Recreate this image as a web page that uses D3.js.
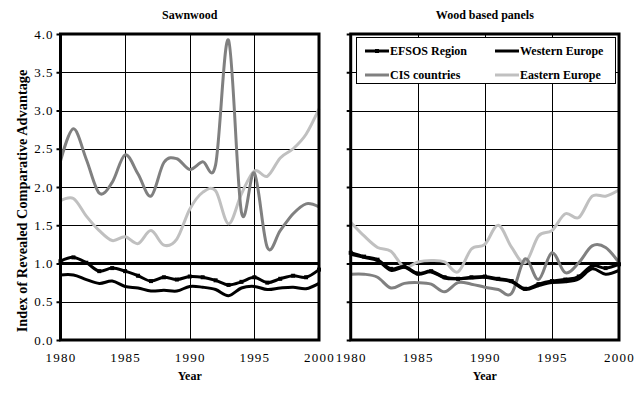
<!DOCTYPE html>
<html>
<head>
<meta charset="utf-8">
<script src="https://cdn.jsdelivr.net/npm/d3@7"></script>
<style>
  body { margin: 0; background: #fff; }
  svg text { font-family: "Liberation Serif", "Times New Roman", serif; fill: #000; }
</style>
</head>
<body>
<script>
// years shared by every series
var years = d3.range(1980, 2001);
var yTicks = [0, 0.5, 1, 1.5, 2, 2.5, 3, 3.5, 4];
var xTicks = [1980, 1985, 1990, 1995, 2000];

// sawnwood RCA index
var sawEfsos   = [1.03, 1.08, 1.01, 0.90, 0.94, 0.90, 0.84, 0.77, 0.82, 0.79, 0.83, 0.82, 0.78, 0.72, 0.76, 0.82, 0.75, 0.80, 0.84, 0.82, 0.92];
var sawWestern = [0.85, 0.85, 0.79, 0.74, 0.77, 0.70, 0.68, 0.64, 0.65, 0.64, 0.70, 0.69, 0.66, 0.58, 0.68, 0.70, 0.66, 0.68, 0.69, 0.67, 0.74];
var sawCis     = [2.34, 2.76, 2.36, 1.92, 2.06, 2.42, 2.17, 1.88, 2.32, 2.37, 2.23, 2.33, 2.29, 3.92, 1.67, 2.18, 1.21, 1.43, 1.65, 1.78, 1.74];
var sawEastern = [1.82, 1.85, 1.62, 1.43, 1.30, 1.35, 1.26, 1.43, 1.24, 1.32, 1.71, 1.93, 1.95, 1.52, 1.91, 2.21, 2.14, 2.38, 2.50, 2.69, 3.02];

// wood based panels RCA index
var panEfsos   = [1.14, 1.09, 1.05, 0.93, 0.96, 0.87, 0.90, 0.82, 0.80, 0.82, 0.83, 0.80, 0.77, 0.67, 0.73, 0.77, 0.79, 0.83, 0.97, 0.94, 0.99];
var panWestern = [1.12, 1.08, 1.04, 0.91, 0.95, 0.86, 0.89, 0.81, 0.80, 0.81, 0.82, 0.79, 0.76, 0.66, 0.71, 0.75, 0.76, 0.80, 0.93, 0.86, 0.91];
var panCis     = [0.86, 0.86, 0.82, 0.68, 0.74, 0.75, 0.73, 0.63, 0.75, 0.73, 0.69, 0.66, 0.61, 1.06, 0.79, 1.14, 0.88, 1.01, 1.23, 1.21, 1.01];
var panEastern = [1.54, 1.36, 1.21, 1.16, 0.95, 1.02, 1.04, 1.02, 0.89, 1.19, 1.25, 1.50, 1.21, 1.01, 1.36, 1.43, 1.65, 1.60, 1.88, 1.88, 1.96];

var seriesNames = ['EFSOS Region', 'Western Europe', 'CIS countries', 'Eastern Europe'];
var seriesColors = ['#000', '#000', '#808080', '#c0c0c0'];

var width = 642,
	height = 394;

var svg = d3.select('body')
	.append('svg')
	.attr('width', width)
	.attr('height', height);

function panel(title, left, right, showLabels, data) {
	var x = d3.scaleLinear().domain([1980, 2000]).range([left, right]);
	var y = d3.scaleLinear().domain([0, 4]).range([340, 34]);
	var g = svg.append('g');

	// grid
	g.selectAll('.hgrid')
		.data(yTicks)
		.enter().append('line')
		.attr('x1', left).attr('x2', right)
		.attr('y1', function(d) { return Math.round(y(d)) + 0.5; })
		.attr('y2', function(d) { return Math.round(y(d)) + 0.5; })
		.attr('stroke', '#000')
		.attr('stroke-width', 1);
	g.selectAll('.vgrid')
		.data(xTicks)
		.enter().append('line')
		.attr('x1', function(d) { return Math.round(x(d)) + 0.5; })
		.attr('x2', function(d) { return Math.round(x(d)) + 0.5; })
		.attr('y1', y(4)).attr('y2', y(0))
		.attr('stroke', '#000')
		.attr('stroke-width', 1);

	// reference line at 1.0
	g.append('line')
		.attr('x1', left).attr('x2', right)
		.attr('y1', y(1)).attr('y2', y(1))
		.attr('stroke', '#000')
		.attr('stroke-width', 3);

	var line = d3.line()
		.x(function(d, i) { return x(years[i]); })
		.y(function(d) { return y(d); })
		.curve(d3.curveCardinal.tension(0));

	// draw light series first so the black ones sit on top
	[3, 2, 1, 0].forEach(function(k) {
		g.append('path')
			.datum(data[k])
			.attr('d', line)
			.attr('fill', 'none')
			.attr('stroke', seriesColors[k])
			.attr('stroke-width', 3);
	});

	// small markers on the EFSOS series
	g.selectAll('.mk')
		.data(data[0])
		.enter().append('rect')
		.attr('x', function(d, i) { return x(years[i]) - 2; })
		.attr('y', function(d) { return y(d) - 2; })
		.attr('width', 4)
		.attr('height', 4)
		.attr('fill', '#000');

	// axes
	var yAxis = d3.axisLeft(y)
		.tickValues(yTicks)
		.tickSize(4)
		.tickFormat(showLabels ? d3.format('.1f') : '');
	var ya = g.append('g')
		.attr('transform', 'translate(' + left + ',0)')
		.call(yAxis);
	ya.select('.domain').remove();
	ya.selectAll('line').attr('stroke', '#000').attr('stroke-width', 2);
	ya.selectAll('text')
		.attr('font-size', 13)
		.attr('letter-spacing', 1)
		.attr('x', -7);

	var xAxis = d3.axisBottom(x)
		.tickValues(xTicks)
		.tickSize(0)
		.tickFormat(d3.format('d'));
	var xa = g.append('g')
		.attr('transform', 'translate(0,' + y(0) + ')')
		.call(xAxis);
	xa.select('.domain').remove();
	xa.selectAll('text')
		.attr('font-size', 13)
		.attr('letter-spacing', 1.2)
		.attr('dy', 0)
		.attr('y', 22);

	// thick frame
	g.append('rect')
		.attr('x', left).attr('y', y(4))
		.attr('width', right - left)
		.attr('height', y(0) - y(4))
		.attr('fill', 'none')
		.attr('stroke', '#000')
		.attr('stroke-width', 3);

	g.append('text')
		.attr('x', (left + right) / 2)
		.attr('y', 19)
		.attr('text-anchor', 'middle')
		.attr('font-size', 12)
		.attr('font-weight', 'bold')
		.text(title);

	g.append('text')
		.attr('x', (left + right) / 2)
		.attr('y', 380)
		.attr('text-anchor', 'middle')
		.attr('font-size', 12)
		.attr('font-weight', 'bold')
		.text('Year');

	return g;
}

panel('Sawnwood', 60.5, 319, true, [sawEfsos, sawWestern, sawCis, sawEastern]);
panel('Wood based panels', 350.7, 619, false, [panEfsos, panWestern, panCis, panEastern]);

// y axis title, sized so it runs from about 0.1 up to 3.5
var yTitle = svg.append('text')
	.attr('transform', 'translate(27,201) rotate(-90)')
	.attr('text-anchor', 'middle')
	.attr('font-size', 12)
	.attr('font-weight', 'bold')
	.text('Index of Revealed Comparative Advantage');
var natural = yTitle.node().getComputedTextLength();
yTitle.attr('font-size', 12 * 263 / natural);

// legend
var legend = svg.append('g');
legend.append('rect')
	.attr('x', 356.5).attr('y', 37.5)
	.attr('width', 259).attr('height', 46)
	.attr('fill', '#fff')
	.attr('stroke', '#000')
	.attr('stroke-width', 1);

var legPos = [[365, 51], [495, 51], [365, 75], [495, 75]];
seriesNames.forEach(function(name, k) {
	var p = legPos[k];
	legend.append('line')
		.attr('x1', p[0]).attr('x2', p[0] + 24)
		.attr('y1', p[1]).attr('y2', p[1])
		.attr('stroke', seriesColors[k])
		.attr('stroke-width', 3);
	if (k === 0) {
		legend.append('rect')
			.attr('x', p[0] + 10).attr('y', p[1] - 2)
			.attr('width', 4).attr('height', 4)
			.attr('fill', '#000');
	}
	legend.append('text')
		.attr('x', p[0] + 25)
		.attr('y', p[1] + 4)
		.attr('font-size', 12)
		.attr('font-weight', 'bold')
		.text(name);
});
</script>
</body>
</html>
